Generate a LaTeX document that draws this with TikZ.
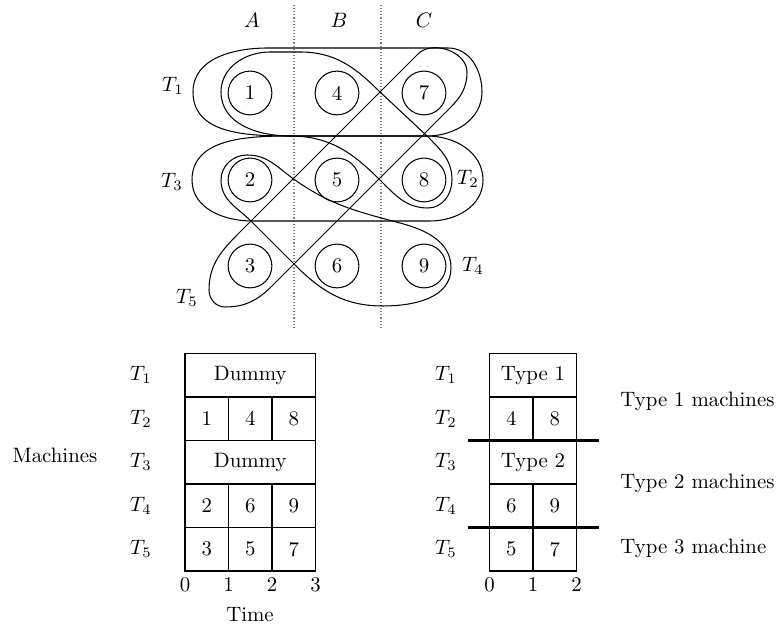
\documentclass[tikz,border=0pt]{standalone}
\begin{document}
\begin{tikzpicture}[x=0.48pt,y=0.48pt,
  vtx/.style={circle,draw,line width=0.5pt,minimum size=21pt,inner sep=0pt},
  hedge/.style={draw,line width=0.5pt},
  sepline/.style={draw,gray,line width=0.5pt,dash pattern=on 0.5pt off 1pt},
  cell/.style={draw,line width=0.5pt,minimum width=20.88pt,minimum height=20.88pt,inner sep=0pt},
  wcellthree/.style={cell,minimum width=62.64pt},
  wcelltwo/.style={cell,minimum width=41.76pt},
  thickbar/.style={draw,line width=1pt},
  lbl/.style={inner sep=0pt}]
\useasboundingbox (0,0) rectangle (780,-626);

% column labels
\node[lbl] (A) at (252,-20) {$A$};
\node[lbl] (B) at (339,-20) {$B$};
\node[lbl] (C) at (424,-20) {$C$};
% dotted separators
\coordinate (s1t) at (294,-5);  \coordinate (s1b) at (294,-327);
\coordinate (s2t) at (381,-5);  \coordinate (s2b) at (381,-327);
\draw[sepline] (s1t) -- (s1b);
\draw[sepline] (s2t) -- (s2b);

% vertices
\node[vtx] (v1) at (250,-93) {1};
\node[vtx] (v4) at (337,-93) {4};
\node[vtx] (v7) at (424,-93) {7};
\node[vtx] (v2) at (250,-180) {2};
\node[vtx] (v5) at (337,-180) {5};
\node[vtx] (v8) at (424,-180) {8};
\node[vtx] (v3) at (250,-266) {3};
\node[vtx] (v6) at (337,-266) {6};
\node[vtx] (v9) at (424,-266) {9};

% hyperedges
% T1
\draw[hedge] (300,-136) -- (427,-136) to[out=0,in=-90] (482,-92) to[out=90,in=0] (448,-48)
  -- (268,-48) to[out=180,in=90] (193,-92) to[out=-90,in=180] (300,-136) -- cycle;
% T3
\draw[hedge] (290,-136) -- (427,-136) to[out=0,in=90] (483,-180) to[out=-90,in=0] (430,-221)
  -- (252,-221) to[out=180,in=-90] (192,-180) to[out=90,in=180] (290,-136) -- cycle;
% T2
\draw[hedge] (221,-92) to[out=-90,in=180] (290,-136) to[out=0,in=135] (380,-180)
  to[out=-45,in=180] (428,-208) to[out=0,in=-90] (452,-180) to[out=90,in=-45] (427,-136)
  -- (380,-92) to[out=135,in=0] (300,-52) -- (270,-52) to[out=180,in=90] (221,-92) -- cycle;
% T4
\draw[hedge] (247,-155) to[out=180,in=90] (221,-180) to[out=-90,in=135] (252,-222)
  -- (295,-265) to[out=-45,in=180] (383,-306) to[out=0,in=-90] (451,-268)
  to[out=90,in=-15] (400,-223) to[out=165,in=-35] (295,-180) to[out=145,in=0] (247,-155) -- cycle;
% T5
\draw[hedge] (240,-232) -- (418,-54) to[out=45,in=90] (467,-72) to[out=-90,in=45] (450,-108)
  -- (272,-286) to[out=225,in=0] (225,-307) to[out=180,in=-90] (209,-290) to[out=90,in=225] (240,-232) -- cycle;

% hyperedge labels
\node[lbl] (lT1) at (173,-86) {$T_1$};
\node[lbl] (lT3) at (172,-182) {$T_3$};
\node[lbl] (lT2) at (468,-179) {$T_2$};
\node[lbl] (lT4) at (473,-266) {$T_4$};
\node[lbl] (lT5) at (187,-298) {$T_5$};

% left chart
\node[wcellthree] (L1) at (250.25,-375.25) {Dummy};
\node[cell] (L21) at (206.75,-418.75) {1};
\node[cell] (L22) at (250.25,-418.75) {4};
\node[cell] (L23) at (293.75,-418.75) {8};
\node[wcellthree] (L3) at (250.25,-462.25) {Dummy};
\node[cell] (L41) at (206.75,-505.75) {2};
\node[cell] (L42) at (250.25,-505.75) {6};
\node[cell] (L43) at (293.75,-505.75) {9};
\node[cell] (L51) at (206.75,-549.25) {3};
\node[cell] (L52) at (250.25,-549.25) {5};
\node[cell] (L53) at (293.75,-549.25) {7};
\node[lbl] (LT1) at (141,-375.25) {$T_1$};
\node[lbl] (LT2) at (141,-418.75) {$T_2$};
\node[lbl] (LT3) at (141,-462.25) {$T_3$};
\node[lbl] (LT4) at (141,-505.75) {$T_4$};
\node[lbl] (LT5) at (141,-549.25) {$T_5$};
\node[lbl] (mach) at (55,-455) {Machines};
\node[lbl] (Lx0) at (185,-585) {0};
\node[lbl] (Lx1) at (228.5,-585) {1};
\node[lbl] (Lx2) at (272,-585) {2};
\node[lbl] (Lx3) at (315.5,-585) {3};
\node[lbl] (time) at (250,-615) {Time};

% right chart
\node[wcelltwo] (R1) at (533,-375.25) {Type 1};
\node[cell] (R21) at (511.25,-418.75) {4};
\node[cell] (R22) at (554.75,-418.75) {8};
\node[wcelltwo] (R3) at (533,-462.25) {Type 2};
\node[cell] (R41) at (511.25,-505.75) {6};
\node[cell] (R42) at (554.75,-505.75) {9};
\node[cell] (R51) at (511.25,-549.25) {5};
\node[cell] (R52) at (554.75,-549.25) {7};
\node[lbl] (RT1) at (446,-375.25) {$T_1$};
\node[lbl] (RT2) at (446,-418.75) {$T_2$};
\node[lbl] (RT3) at (446,-462.25) {$T_3$};
\node[lbl] (RT4) at (446,-505.75) {$T_4$};
\node[lbl] (RT5) at (446,-549.25) {$T_5$};
\node[lbl] (Rx0) at (489.5,-585) {0};
\node[lbl] (Rx1) at (533,-585) {1};
\node[lbl] (Rx2) at (576.5,-585) {2};
\coordinate (b1l) at (468,-440.5); \coordinate (b1r) at (599,-440.5);
\coordinate (b2l) at (468,-527.5); \coordinate (b2r) at (599,-527.5);
\draw[thickbar] (b1l) -- (b1r);
\draw[thickbar] (b2l) -- (b2r);
\node[lbl,anchor=west] (ty1) at (620,-401) {Type 1 machines};
\node[lbl,anchor=west] (ty2) at (620,-483) {Type 2 machines};
\node[lbl,anchor=west] (ty3) at (620,-548) {Type 3 machine};
\end{tikzpicture}
\end{document}
